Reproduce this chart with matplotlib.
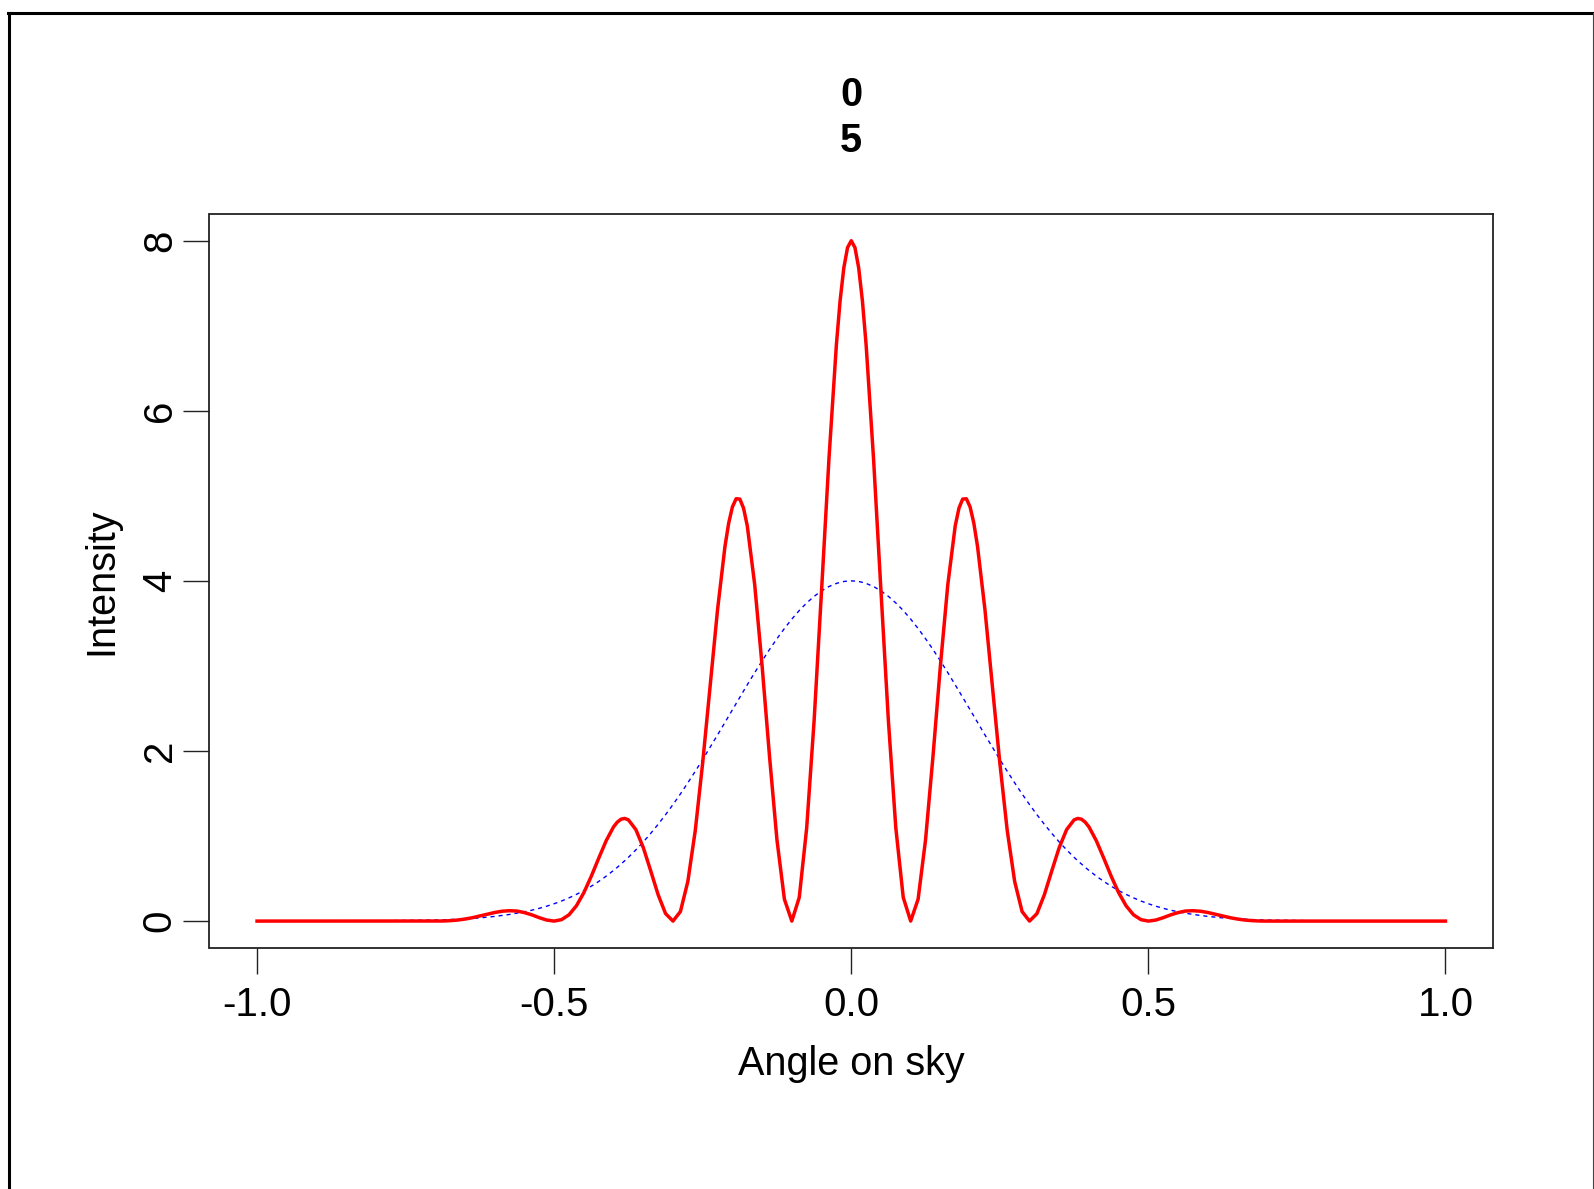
import numpy as np
import matplotlib
matplotlib.use('Agg')
import matplotlib.pyplot as plt
from matplotlib.lines import Line2D

plt.rcParams['font.family'] = ['Liberation Sans', 'DejaVu Sans']
plt.rcParams['axes.unicode_minus'] = False

# Sample points for the right half (the chart is symmetric about 0)
x_half = [0.0, 0.00625, 0.0125, 0.01875, 0.025, 0.0375, 0.05, 0.0625, 0.075, 0.0875, 0.1,
          0.1125, 0.125, 0.1375, 0.15, 0.1625, 0.175, 0.18125, 0.1875, 0.19375, 0.2,
          0.20625, 0.2125, 0.225, 0.2375, 0.25, 0.2625, 0.275, 0.2875, 0.3,
          0.3125, 0.325, 0.3375, 0.35, 0.3625, 0.375, 0.38125, 0.3875, 0.39375, 0.4,
          0.4125, 0.425, 0.4375, 0.45, 0.4625, 0.475, 0.4875, 0.5,
          0.5125, 0.525, 0.5375, 0.55, 0.5625, 0.575, 0.5875, 0.6, 0.6125, 0.625,
          0.6375, 0.65, 0.6625, 0.675, 0.6875, 0.7]
red_half = [8.000, 7.919, 7.681, 7.295, 6.778, 5.439, 3.883, 2.357, 1.095, 0.278, 0.000,
            0.257, 0.953, 1.933, 2.999, 3.957, 4.648, 4.855, 4.962, 4.966, 4.870,
            4.680, 4.406, 3.662, 2.769, 1.863, 1.065, 0.466, 0.112, 0.000,
            0.088, 0.310, 0.591, 0.865, 1.076, 1.190, 1.207, 1.198, 1.163, 1.108,
            0.944, 0.739, 0.527, 0.334, 0.180, 0.074, 0.017, 0.000,
            0.012, 0.040, 0.073, 0.100, 0.118, 0.122, 0.116, 0.101, 0.081, 0.060,
            0.040, 0.024, 0.012, 0.005, 0.001, 0.000]
blue_half = [4.000, 3.998, 3.993, 3.983, 3.970, 3.934, 3.883, 3.818, 3.741, 3.652, 3.551,
             3.440, 3.321, 3.194, 3.060, 2.921, 2.778, 2.705, 2.632, 2.558, 2.485,
             2.411, 2.337, 2.189, 2.044, 1.901, 1.761, 1.626, 1.495, 1.370,
             1.251, 1.138, 1.031, 0.930, 0.837, 0.750, 0.709, 0.670, 0.632, 0.596,
             0.528, 0.466, 0.410, 0.359, 0.314, 0.273, 0.236, 0.204,
             0.175, 0.150, 0.128, 0.109, 0.093, 0.078, 0.066, 0.055, 0.046, 0.038,
             0.032, 0.026, 0.022, 0.018, 0.014, 0.012]
x_tail = [0.8, 0.9, 1.0]
red_tail = [0.0, 0.0, 0.0]
blue_tail = [0.002, 0.0, 0.0]

x_ticks = [-1.0, -0.5, 0.0, 0.5, 1.0]
x_ticklabels = ['-1.0', '-0.5', '0.0', '0.5', '1.0']
y_ticks = [0, 2, 4, 6, 8]
y_ticklabels = ['0', '2', '4', '6', '8']
title_lines = ['0', '5']
xlabel = 'Angle on sky'
ylabel = 'Intensity'

xr = np.concatenate([x_half, x_tail])
rr = np.concatenate([red_half, red_tail])
br = np.concatenate([blue_half, blue_tail])
x = np.concatenate([-xr[::-1], xr[1:]])
red = np.concatenate([rr[::-1], rr[1:]])
blue = np.concatenate([br[::-1], br[1:]])

W, H = 1594, 1189
fig = plt.figure(figsize=(W / 100, H / 100), dpi=100)
fig.patch.set_facecolor('white')

left, right, top, bottom = 209.5, 1493, 213.5, 948.3
ax = fig.add_axes([left / W, 1 - bottom / H, (right - left) / W, (bottom - top) / H])

ax.plot(x, blue, color='#0000FF', lw=1.0, linestyle=(0, (2.9, 2.9)))
ax.plot(x, red, color='#FF0000', lw=2.5, solid_joinstyle='round')

ax.set_xlim(-1.08, 1.08)
ax.set_ylim(-0.32, 8.32)
ax.set_xticks(x_ticks)
ax.set_xticklabels(x_ticklabels, fontsize=29)
ax.set_yticks(y_ticks)
ax.set_yticklabels(y_ticklabels, fontsize=29, rotation=90, va='center')
ax.tick_params(axis='both', length=18.5, width=1.0, color='#222222')
ax.tick_params(axis='x', pad=8.5)
ax.tick_params(axis='y', pad=3.6)
for s in ax.spines.values():
    s.set_color('#222222')
    s.set_linewidth(1.3)

# axis labels
cx = (left + right) / 2
cy = (top + bottom) / 2
fig.text(cx / W, 1 - 1075 / H, xlabel, fontsize=28.5, ha='center', va='baseline')
fig.text(101 / W, 1 - cy / H, ylabel, fontsize=28.5, rotation=90, ha='center', va='center')

# title (two bold lines)
fig.text(cx / W, 1 - 106 / H, title_lines[0], fontsize=28.5, fontweight='bold', ha='center', va='baseline')
fig.text(cx / W, 1 - 152 / H, title_lines[1], fontsize=28.5, fontweight='bold', ha='center', va='baseline')

# outer frame
fig.add_artist(Line2D([8 / W, 1.0], [1 - 12.5 / H, 1 - 12.5 / H], transform=fig.transFigure, color='black', lw=2.2))
fig.add_artist(Line2D([8.5 / W, 8.5 / W], [0, 1 - 12.5 / H], transform=fig.transFigure, color='black', lw=2.2))
fig.add_artist(Line2D([1593 / W, 1593 / W], [0, 1 - 12.5 / H], transform=fig.transFigure, color='#444444', lw=0.8))

fig.savefig('out.png', dpi=100)
